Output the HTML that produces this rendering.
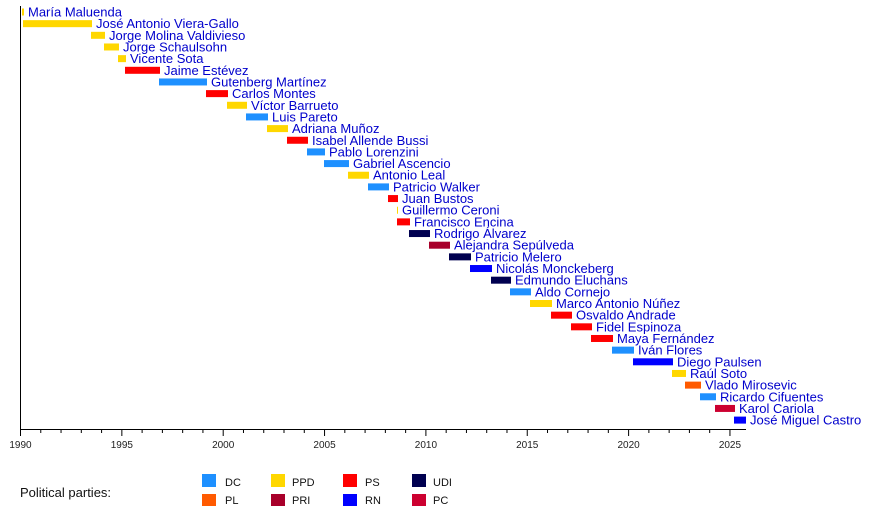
<!DOCTYPE html>
<html><head><meta charset="utf-8"><style>
html,body{margin:0;padding:0;background:#fff;}
svg{display:block;}
text{font-family:"Liberation Sans",sans-serif;}
.n{font-size:13px;fill:#0000cc;}
.t{font-size:10px;fill:#222;}
.l{font-size:11px;fill:#111;}
</style></head><body>
<svg width="875" height="508" viewBox="0 0 875 508" xmlns="http://www.w3.org/2000/svg">
<rect width="875" height="508" fill="#fff"/>
<g id="bars"></g>
<line x1="20.5" y1="6" x2="20.5" y2="429.5" stroke="#000" stroke-width="1"/>
<line x1="20" y1="429.5" x2="746" y2="429.5" stroke="#000" stroke-width="1"/>
<g id="ticks" stroke="#000" stroke-width="1"></g>
<g id="tl"></g>
<text class="l" x="20" y="497" style="font-size:13px">Political parties:</text>
<g>
<rect x="202" y="474" width="14" height="13" fill="#1e90ff"/><text class="l" x="225" y="486">DC</text>
<rect x="202" y="494" width="14" height="12" fill="#ff5a00"/><text class="l" x="225" y="504">PL</text>
<rect x="271" y="474" width="14" height="13" fill="#ffd700"/><text class="l" x="292" y="486">PPD</text>
<rect x="271" y="494" width="14" height="12" fill="#a8002a"/><text class="l" x="292" y="504">PRI</text>
<rect x="343" y="474" width="14" height="13" fill="#ff0000"/><text class="l" x="365" y="486">PS</text>
<rect x="343" y="494" width="14" height="12" fill="#0000ff"/><text class="l" x="365" y="504">RN</text>
<rect x="412" y="474" width="14" height="13" fill="#000050"/><text class="l" x="433" y="486">UDI</text>
<rect x="412" y="494" width="14" height="12" fill="#cc0030"/><text class="l" x="433" y="504">PC</text>
</g>
</svg>
<script>
var C={DC:"#1e90ff",PL:"#ff5a00",PPD:"#ffd700",PRI:"#a8002a",PS:"#ff0000",RN:"#0000ff",UDI:"#000050",PC:"#cc0030"};
var d=[
["María Maluenda",22,24,"PPD"],["José Antonio Viera-Gallo",23,92,"PPD"],["Jorge Molina Valdivieso",91,105,"PPD"],
["Jorge Schaulsohn",104,119,"PPD"],["Vicente Sota",118,126,"PPD"],["Jaime Estévez",125,160,"PS"],
["Gutenberg Martínez",159,207,"DC"],["Carlos Montes",206,228,"PS"],["Víctor Barrueto",227,247,"PPD"],
["Luis Pareto",246,268,"DC"],["Adriana Muñoz",267,288,"PPD"],["Isabel Allende Bussi",287,308,"PS"],
["Pablo Lorenzini",307,325,"DC"],["Gabriel Ascencio",324,349,"DC"],["Antonio Leal",348,369,"PPD"],
["Patricio Walker",368,389,"DC"],["Juan Bustos",388,398,"PS"],["Guillermo Ceroni",397,398,"PPD"],
["Francisco Encina",397,410,"PS"],["Rodrigo Álvarez",409,430,"UDI"],["Alejandra Sepúlveda",429,450,"PRI"],
["Patricio Melero",449,471,"UDI"],["Nicolás Monckeberg",470,492,"RN"],["Edmundo Eluchans",491,511,"UDI"],
["Aldo Cornejo",510,531,"DC"],["Marco Antonio Núñez",530,552,"PPD"],["Osvaldo Andrade",551,572,"PS"],
["Fidel Espinoza",571,592,"PS"],["Maya Fernández",591,613,"PS"],["Iván Flores",612,634,"DC"],
["Diego Paulsen",633,673,"RN"],["Raúl Soto",672,686,"PPD"],["Vlado Mirosevic",685,701,"PL"],
["Ricardo Cifuentes",700,716,"DC"],["Karol Cariola",715,735,"PC"],["José Miguel Castro",734,746,"RN"]];
var ns="http://www.w3.org/2000/svg",g=document.getElementById("bars");
function el(t,a,txt){var e=document.createElementNS(ns,t);for(var k in a)e.setAttribute(k,a[k]);if(txt)e.textContent=txt;return e;}
d.forEach(function(r,i){var y=12+i*11.66;
g.appendChild(el("rect",{x:r[1],y:y-3.5,width:Math.max(1,r[2]-r[1]),height:7,fill:C[r[3]]}));
g.appendChild(el("text",{"class":"n",x:r[2]+4,y:y+4.5},r[0]));});
var tk=document.getElementById("ticks"),tl=document.getElementById("tl");
for(var yr=1990;yr<=2025;yr++){var x=20.5+(yr-1990)*20.27;var big=yr%5==0;
tk.appendChild(el("line",{x1:x,y1:429.5,x2:x,y2:big?436:433}));
if(big)tl.appendChild(el("text",{"class":"t",x:x,y:448,"text-anchor":"middle"},String(yr)));}
</script>
</body></html>
